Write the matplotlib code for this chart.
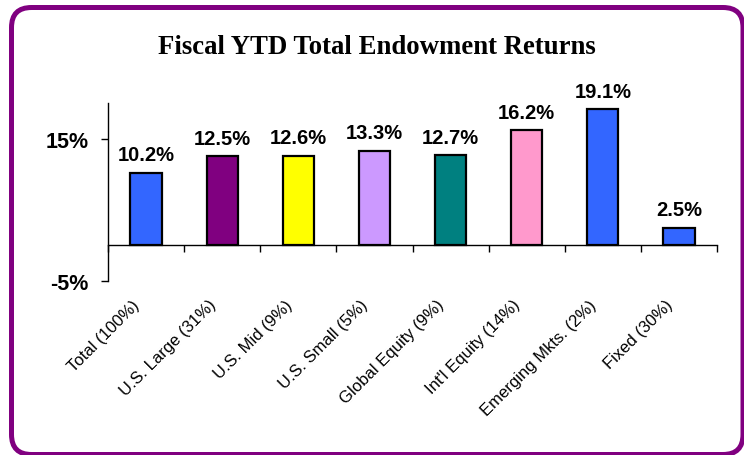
import numpy as np
import matplotlib
matplotlib.use("Agg")
from matplotlib import pyplot as plt
from matplotlib.patches import FancyBboxPatch
from matplotlib.transforms import ScaledTranslation, IdentityTransform

categories = ["Total (100%)", "U.S. Large (31%)", "U.S. Mid (9%)", "U.S. Small (5%)",
              "Global Equity (9%)", "Int'l Equity (14%)", "Emerging Mkts. (2%)", "Fixed (30%)"]
returns = [10.2, 12.5, 12.6, 13.3, 12.7, 16.2, 19.1, 2.5]
colors = ["#3366FF", "#800080", "#FFFF00", "#CC99FF", "#008080", "#FF99CC", "#3366FF", "#3366FF"]
ytick_vals = [-5, 15]

plt.rcParams['font.family'] = ['Liberation Sans', 'DejaVu Sans']

fig = plt.figure(figsize=(7.44, 4.56), dpi=100, facecolor="white")
W, H = 744, 456

# purple rounded frame (pixel coords, partly cut off at right and bottom)
frame = FancyBboxPatch((11.5, 0.5), 743 - 11.5, (H - 8.5) - 0.5,
                       boxstyle="round,pad=0,rounding_size=20",
                       transform=IdentityTransform(), facecolor="none",
                       edgecolor="#800080", linewidth=3.6, zorder=0)
fig.patches.append(frame)

fig.text(377 / W, 1 - 48 / H, "Fiscal YTD Total Endowment Returns",
         family="Liberation Serif", weight="bold", fontsize=19.3,
         ha="center", va="center")

ax = fig.add_axes([108 / W, 1 - 282 / H, (717 - 108) / W, (282 - 104) / H])
ax.patch.set_visible(False)

x = np.arange(len(categories))
bars = ax.bar(x, returns, width=0.41, color=colors, edgecolor="black", linewidth=1.6, zorder=3)

for xi, v in zip(x, returns):
    ax.annotate(f"{v:.1f}%", (xi, v), xytext=(0, 6), textcoords="offset points",
                ha="center", va="bottom", fontsize=14.5, weight="bold")

ax.set_xlim(-0.5, len(categories) - 0.5)
ax.set_ylim(-5, 20)

for s in ["top", "right"]:
    ax.spines[s].set_visible(False)
ax.spines["bottom"].set_position(("data", 0))
ax.spines["left"].set_linewidth(1)
ax.spines["bottom"].set_linewidth(1)

ax.set_yticks(ytick_vals)
ax.set_yticklabels([f"{v}%" for v in ytick_vals], fontsize=15.5, weight="bold")
ax.tick_params(axis="y", direction="out", length=5, width=1, pad=9)

ax.set_xticks(x)
ax.set_xticks(np.arange(len(categories) + 1) - 0.5, minor=True)
ax.tick_params(axis="x", which="minor", direction="out", length=5, width=1)
ax.tick_params(axis="x", which="major", length=0, pad=37)
ax.set_xticklabels(categories, rotation=45, ha="right", va="top",
                   rotation_mode="anchor", fontsize=12)
for lbl in ax.get_xticklabels():
    lbl.set_transform(lbl.get_transform() + ScaledTranslation(-14 / 100, 0, fig.dpi_scale_trans))

fig.savefig("out.png", dpi=100)
